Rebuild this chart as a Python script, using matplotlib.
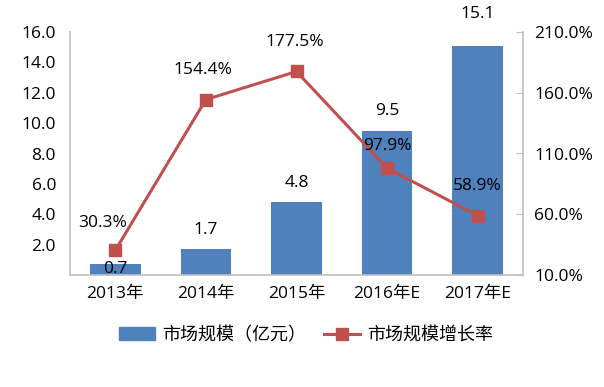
import matplotlib
matplotlib.use("Agg")
import matplotlib.pyplot as plt
from matplotlib.lines import Line2D
from matplotlib.patches import Patch

plt.rcParams['font.family'] = ['Open Sans', 'Noto Sans CJK SC', 'DejaVu Sans']

categories = ['2013年', '2014年', '2015年', '2016年E', '2017年E']
market_size = [0.7, 1.7, 4.8, 9.5, 15.1]
growth_rate = [30.3, 154.4, 177.5, 97.9, 58.9]
left_ticks = [2.0, 4.0, 6.0, 8.0, 10.0, 12.0, 14.0, 16.0]
right_ticks = [10.0, 60.0, 110.0, 160.0, 210.0]

blue = '#4F81BD'
red = '#C0504D'
gray = '#BFBFBF'
FS = 12.5

fig = plt.figure(figsize=(6.04, 3.87), dpi=100)
ax = fig.add_axes([70/604, 1-275/387, 453/604, 243/387])
ax2 = ax.twinx()

x = list(range(len(categories)))
ax.bar(x, market_size, width=0.56, color=blue, zorder=2)
ax.set_ylim(0, 16)
ax.set_xlim(-0.5, len(categories)-0.5)
ax.set_yticks(left_ticks)
ax.set_yticklabels([f'{v:.1f}' for v in left_ticks], fontsize=FS)
ax.tick_params(axis='y', length=0, pad=10)
ax.set_xticks(x)
ax.set_xticklabels(categories, fontsize=FS)
ax.tick_params(axis='x', length=0, pad=8)

for s in ['top', 'right']:
    ax.spines[s].set_visible(False)
for s in ['left', 'bottom']:
    ax.spines[s].set_color(gray)
    ax.spines[s].set_linewidth(1.2)

for i, v in enumerate(market_size):
    if i == 0:
        dy = -3
    elif i == len(market_size) - 1:
        dy = 23
    else:
        dy = 14
    ax.annotate(f'{v:.1f}', (i, v), xytext=(0, dy), textcoords='offset points',
                ha='center', va='center', fontsize=FS, zorder=5)

ax2.plot(x, growth_rate, color=red, linewidth=2.2, marker='s', markersize=8,
         markerfacecolor=red, markeredgecolor=red, zorder=3)
ax2.set_ylim(10, 210)
ax2.set_yticks(right_ticks)
ax2.set_yticklabels([f'{v:.1f}%' for v in right_ticks], fontsize=FS)
ax2.tick_params(axis='y', direction='in', length=5, color=gray, pad=8)
for s in ['top', 'left', 'bottom']:
    ax2.spines[s].set_visible(False)
ax2.spines['right'].set_color(gray)
ax2.spines['right'].set_linewidth(1.2)

offsets = [(-9, 20), (-2, 21), (-1, 21), (0, 16), (0, 21)]
for i, v in enumerate(growth_rate):
    ax2.annotate(f'{v:.1f}%', (i, v), xytext=offsets[i], textcoords='offset points',
                 ha='center', va='center', fontsize=FS, zorder=5)

handles = [Patch(facecolor=blue, edgecolor=blue),
           Line2D([0], [0], color=red, linewidth=2.2, marker='s', markersize=8)]
labels = ['市场规模（亿元）', '市场规模增长率']
fig.legend(handles, labels, loc='center', bbox_to_anchor=(306/604, 1-335/387),
           ncol=2, frameon=False, fontsize=13, handlelength=2.0, columnspacing=1.0,
           handletextpad=0.4)

fig.savefig('out.png', dpi=100)
